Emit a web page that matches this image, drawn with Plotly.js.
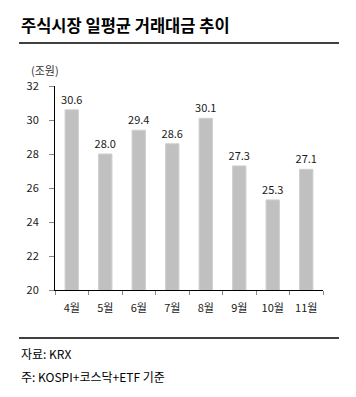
<!DOCTYPE html>
<html><head><meta charset="utf-8">
<script src="https://cdn.plot.ly/plotly-3.0.1.min.js"></script>
<style>html,body{margin:0;padding:0;background:#fff}#c{width:356px;height:397px}</style>
</head><body><div id="c"></div>
<script>
const months = ['4월','5월','6월','7월','8월','9월','10월','11월'];
const values = [30.6, 28.0, 29.4, 28.6, 30.1, 27.3, 25.3, 27.1];
const yTicks = [20,22,24,26,28,30,32];

const W=356,H=397,L=55,R=33,T=86,B=107;
const pw=W-L-R, ph=H-T-B;
const px=x=>(x-L)/pw, py=y=>(H-B-y)/ph;
const F='"Noto Sans CJK KR", "Noto Sans", sans-serif';

const trace={type:'bar',x:months,y:values,
  marker:{color:'#c0c0c0',line:{color:'#d0d0d0',width:1}},
  text:values.map(v=>v.toFixed(1)),textposition:'outside',cliponaxis:false,constraintext:'none',
  textfont:{family:F,size:11,color:'#1a1a1a'},hoverinfo:'none'};

const layout={width:W,height:H,margin:{l:L,r:R,t:T,b:B},
  paper_bgcolor:'#fff',plot_bgcolor:'#fff',showlegend:false,bargap:0.6,
  xaxis:{type:'category',showline:true,linecolor:'#000',linewidth:1,ticks:'outside',
    tickson:'boundaries',ticklen:4,tickcolor:'#888',showgrid:false,ticklabelstandoff:8,
    tickfont:{family:F,size:11,color:'#1a1a1a'},automargin:false},
  yaxis:{range:[20,32],tickvals:yTicks,showline:true,linecolor:'#000',linewidth:1,
    ticks:'outside',ticklen:5,tickcolor:'#888',showgrid:false,zeroline:false,ticklabelstandoff:8,
    tickfont:{family:F,size:11,color:'#1a1a1a'},automargin:false},
  shapes:[
    {type:'line',xref:'paper',yref:'paper',x0:px(19),x1:px(339),y0:py(43),y1:py(43),line:{color:'#000',width:1.5}},
    {type:'line',xref:'paper',yref:'paper',x0:px(19),x1:px(339),y0:py(338),y1:py(338),line:{color:'#000',width:1.5}}
  ],
  annotations:[
    {xref:'paper',yref:'paper',x:px(19),y:py(25),xanchor:'left',yanchor:'middle',showarrow:false,
     text:'<b>주식시장 일평균 거래대금 추이</b>',font:{family:F,size:16.5,color:'#000'}},
    {xref:'paper',yref:'paper',x:px(29),y:py(70),xanchor:'left',yanchor:'middle',showarrow:false,
     text:'(조원)',font:{family:F,size:11,color:'#333'}},
    {xref:'paper',yref:'paper',x:px(19),y:py(353),xanchor:'left',yanchor:'middle',showarrow:false,
     text:'자료: KRX',font:{family:F,size:12,color:'#000'}},
    {xref:'paper',yref:'paper',x:px(19),y:py(376),xanchor:'left',yanchor:'middle',showarrow:false,
     text:'주: KOSPI+코스닥+ETF 기준',font:{family:F,size:12,color:'#000'}}
  ]};
Plotly.newPlot('c',[trace],layout,{staticPlot:true,displayModeBar:false});
</script></body></html>
